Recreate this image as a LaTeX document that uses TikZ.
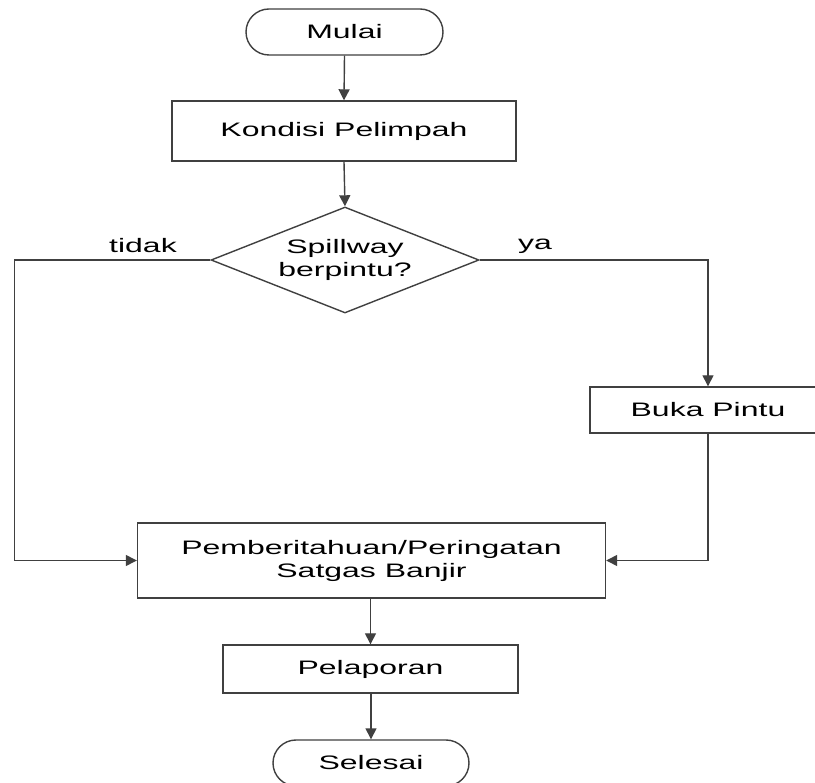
\documentclass[tikz,border=0pt]{standalone}
\usepackage{fontspec}
\newfontfamily\flowfont{Liberation Sans}[FakeStretch=1.64]
\usetikzlibrary{shapes.geometric,arrows.meta}
\tikzset{
  base/.style={draw=black!75, line width=1.4pt, fill=white, text=black,
    font=\flowfont\fontsize{19.5}{23}\selectfont, align=center, inner sep=0pt},
  terminal/.style={base, rectangle, rounded corners=23pt},
  process/.style={base, rectangle},
  decision/.style={base, diamond, aspect=2.53},
  flow/.style={draw=black!75, line width=1.4pt, -{Triangle[width=11pt,length=11pt]}},
  link/.style={draw=black!75, line width=1.4pt},
  lbl/.style={font=\flowfont\fontsize{19.5}{23}\selectfont, inner sep=0pt}
}
\begin{document}
\begin{tikzpicture}[x=1pt,y=-1pt]
\useasboundingbox (0,0) rectangle (815,783);
\fill[white] (0,0) rectangle (815,783);

% nodes
\node[terminal, minimum width=197pt, minimum height=46pt] (mulai) at (344.5,32) {Mulai};
\node[process, minimum width=344pt, minimum height=60pt] (kondisi) at (344,131) {Kondisi Pelimpah};
\node[decision, minimum width=268pt, minimum height=106pt] (dec) at (345,260) {Spillway\\berpintu?};
\node[process, minimum width=236pt, minimum height=46pt] (buka) at (708,410) {Buka Pintu};
\node[process, minimum width=468pt, minimum height=75pt] (pemb) at (371.5,560.5) {Pemberitahuan/Peringatan\\Satgas Banjir};
\node[process, minimum width=295pt, minimum height=48pt] (pelap) at (370.5,669) {Pelaporan};
\node[terminal, minimum width=196pt, minimum height=46pt] (selesai) at (371,763) {Selesai};

% branch labels
\node[lbl] (tidak) at (143,246) {tidak};
\node[lbl] (ya) at (535,246) {ya};

% connectors
\coordinate (lcorner) at (14.5,260);
\draw[flow] (mulai.south) -- (kondisi.north);
\draw[flow] (kondisi.south) -- (dec.north);
\draw[flow] (dec.west) -- (lcorner) |- (pemb.west);
\draw[flow] (dec.east) -| (buka.north);
\draw[flow] (buka.south) |- (pemb.east);
\draw[flow] (pemb.south -| pelap.north) -- (pelap.north);
\draw[flow] (pelap.south -| selesai.north) -- (selesai.north);
\end{tikzpicture}
\end{document}
